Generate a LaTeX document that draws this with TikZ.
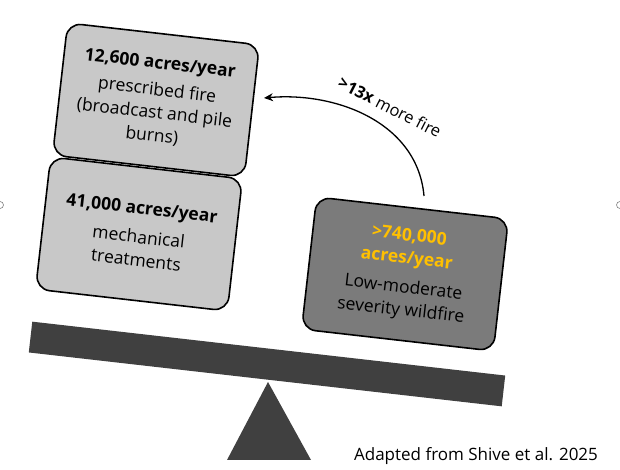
\documentclass[tikz,border=0pt]{standalone}
\usepackage{fontspec}
\setmainfont{Open Sans}
\usetikzlibrary{arrows.meta}
\definecolor{lightbox}{HTML}{C8C8C8}
\definecolor{darkbox}{HTML}{7B7B7B}
\definecolor{gold}{HTML}{FFC000}
\definecolor{beam}{HTML}{404040}
\begin{document}
\begin{tikzpicture}[x=1pt,y=1pt,
  box/.style={draw=black,line width=1.6pt,rounded corners=14pt,minimum width=193pt,minimum height=133pt,align=center,rotate=-6.5,inner sep=2pt,font=\fontsize{17.5}{23}\selectfont}]
\useasboundingbox (0,0) rectangle (620,470);
\fill[white] (0,0) rectangle (620,470);
\node[box,fill=lightbox] (pf) at (156,370) {\textbf{12,600 acres/year}\\[4pt]prescribed fire\\(broadcast and pile\\burns)};
\node[box,fill=lightbox] (mt) at (139,236) {\textbf{41,000 acres/year}\\[6pt]mechanical\\treatments};
\node[box,fill=darkbox] (wf) at (405,196) {\textcolor{gold}{\textbf{>740,000}}\\\textcolor{gold}{\textbf{acres/year}}\\[6pt]Low-moderate\\severity wildfire};
\node[fill=beam,minimum width=476pt,minimum height=31pt,rotate=-6.5,inner sep=0] (bm) at (267,106) {};
\fill[beam] (268,88) -- (227,10) -- (311,10) -- cycle;
\coordinate (arrS) at (424,274);
\coordinate (arrE) at (264,372);
\draw[line width=1.3pt,-{Stealth[length=9pt,width=8pt]}] (arrS) to[out=95,in=5] (arrE);
\node[rotate=-27,font=\fontsize{16.5}{20}\selectfont] (lbl) at (390,363) {\textbf{>13x} more fire};
\draw[gray,line width=0.6pt] (0,265) circle (3.5);
\draw[gray,line width=0.6pt] (620,265) circle (3.5);
\node[font=\fontsize{17}{20}\selectfont] (cap) at (476,14) {Adapted from Shive et al. 2025};
\end{tikzpicture}
\end{document}
